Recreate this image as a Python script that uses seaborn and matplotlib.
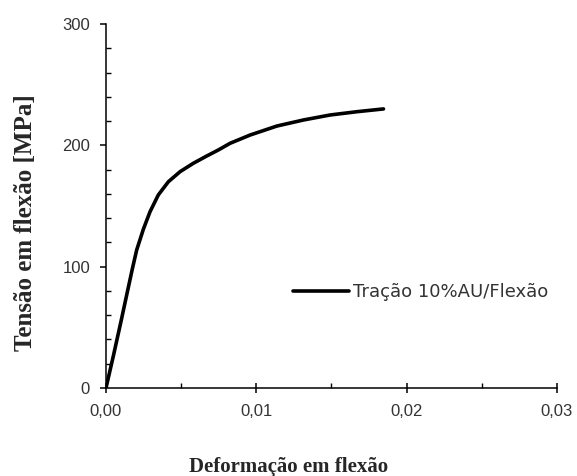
import numpy as np
import pandas as pd
import matplotlib
matplotlib.use("Agg")
import matplotlib.pyplot as plt
import seaborn as sns
from matplotlib.ticker import MultipleLocator

# curve
strain = [0, 0.0005, 0.001, 0.0014, 0.00175, 0.00204, 0.00249, 0.00293,
          0.00348, 0.00415, 0.00493, 0.00581, 0.0067, 0.00748, 0.00826,
          0.00959, 0.01137, 0.01314, 0.01491, 0.01669, 0.01846]
stress = [0, 27, 55, 78, 98, 113.7, 131, 145.3,
          159.1, 170, 178.3, 185.2, 191.2, 196.2, 201.7,
          208.5, 215.9, 220.9, 225, 227.7, 230]
series_name = "Tração 10%AU/Flexão"

x_ticks = [0, 0.01, 0.02, 0.03]
x_tick_labels = ["0,00", "0,01", "0,02", "0,03"]
y_ticks = [0, 100, 200, 300]
y_tick_labels = ["0", "100", "200", "300"]

df = pd.DataFrame({"strain": strain, "stress": stress, "serie": series_name})

sns.set_style("ticks")
plt.rcParams["font.family"] = ["Liberation Sans", "DejaVu Sans"]

fig = plt.figure(figsize=(5.77, 4.76), dpi=100)
ax = fig.add_axes([0.1837, 0.1849, 0.7816, 0.7647])

sns.lineplot(data=df, x="strain", y="stress", hue="serie", palette=["black"],
             sort=False, linewidth=2.6, ax=ax)

ax.set_xlim(0, 0.03)
ax.set_ylim(0, 300)
sns.despine(ax=ax)
for s in ["left", "bottom"]:
    ax.spines[s].set_linewidth(1.1)
    ax.spines[s].set_color("black")

ax.set_xticks(x_ticks)
ax.set_xticklabels(x_tick_labels)
ax.set_yticks(y_ticks)
ax.set_yticklabels(y_tick_labels)
ax.xaxis.set_minor_locator(MultipleLocator(0.005))
ax.yaxis.set_minor_locator(MultipleLocator(20))

ax.tick_params(axis="x", which="major", direction="inout", length=7, width=1.1,
               pad=8, labelsize=12, labelcolor="#333333", color="black")
ax.tick_params(axis="y", which="major", direction="out", length=4.5, width=1.1,
               pad=7, labelsize=12, labelcolor="#333333", color="black")
ax.tick_params(which="minor", direction="in", length=3.5, width=1.0, color="black")

ax.set_xlabel("Deformação em flexão", family="Liberation Serif", fontweight="bold",
              fontsize=15)
ax.set_ylabel("Tensão em flexão [MPa]", family="Liberation Serif", fontweight="bold",
              fontsize=18)
ax.xaxis.set_label_coords(0.404, -0.19)
ax.yaxis.set_label_coords(-0.153, 0.455)

leg = ax.legend(loc="center left", bbox_to_anchor=(0.415, 0.264), frameon=False,
                handlelength=3.1, handletextpad=0.2, borderpad=0, borderaxespad=0,
                prop={"family": "DejaVu Sans", "size": 13})
for t in leg.get_texts():
    t.set_color("#333333")

fig.savefig("out.png", dpi=100)
